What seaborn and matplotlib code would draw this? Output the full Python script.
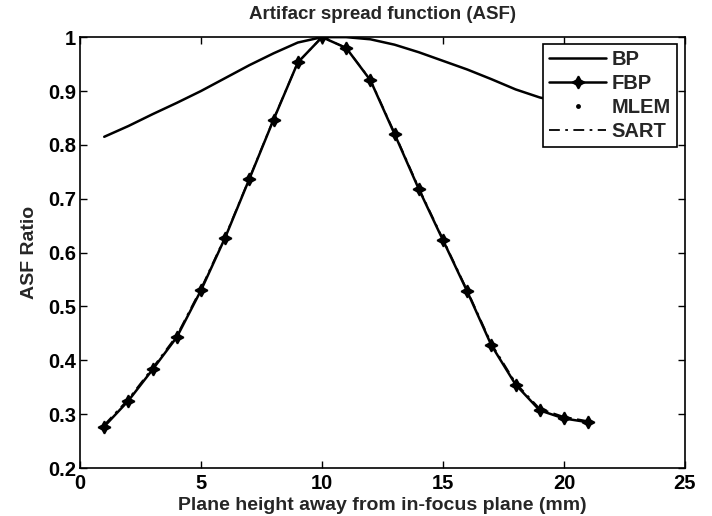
import matplotlib
matplotlib.use("Agg")
import matplotlib.pyplot as plt
import seaborn as sns
import pandas as pd

sns.set_theme(style="ticks")
plt.rcParams['font.family'] = ['Liberation Sans', 'DejaVu Sans']
plt.rcParams['font.weight'] = 'bold'

x = [1, 2, 3, 4, 5, 6, 7, 8, 9, 10, 11, 12, 13, 14, 15, 16, 17, 18, 19, 20, 21]
bp = [0.815, 0.835, 0.857, 0.878, 0.900, 0.924, 0.948, 0.970, 0.990, 1.000, 1.000,
      0.996, 0.986, 0.972, 0.956, 0.940, 0.922, 0.903, 0.888, 0.878, 0.872]
fbp = [0.277, 0.325, 0.383, 0.443, 0.530, 0.628, 0.737, 0.847, 0.953, 1.000, 0.980,
       0.920, 0.820, 0.718, 0.623, 0.528, 0.428, 0.355, 0.307, 0.292, 0.285]
mlem = [0.279, 0.327, 0.385, 0.445, 0.532, 0.629, 0.738, 0.848, 0.953, 1.000, 0.980,
        0.921, 0.821, 0.719, 0.624, 0.529, 0.430, 0.357, 0.309, 0.294, 0.286]
sart = [0.280, 0.328, 0.386, 0.446, 0.533, 0.630, 0.738, 0.848, 0.953, 1.000, 0.980,
        0.921, 0.822, 0.720, 0.625, 0.530, 0.431, 0.358, 0.310, 0.295, 0.287]

df = pd.DataFrame({"x": x, "BP": bp, "FBP": fbp, "MLEM": mlem, "SART": sart})

fig = plt.figure(figsize=(7.12, 5.16), dpi=100)
ax = fig.add_axes([0.1124, 0.093, 0.962 - 0.1124, 0.928 - 0.093])

sns.lineplot(data=df, x="x", y="BP", ax=ax, color="black", lw=1.8, label="BP")
sns.lineplot(data=df, x="x", y="FBP", ax=ax, color="black", lw=1.8, marker=(4, 1, 0),
             markersize=9, markeredgewidth=1.2, markeredgecolor="black", label="FBP")
sns.lineplot(data=df, x="x", y="MLEM", ax=ax, color="black", lw=0, marker="o",
             markersize=3.5, markeredgewidth=0, label="MLEM")
sns.lineplot(data=df, x="x", y="SART", ax=ax, color="black", lw=1.3,
             dashes=False, linestyle=(0, (6, 3, 1.5, 3)), label="SART")

ax.set_xlim(0, 25)
ax.set_ylim(0.2, 1.0)
ax.set_xticks([0, 5, 10, 15, 20, 25])
ax.set_yticks([0.2, 0.3, 0.4, 0.5, 0.6, 0.7, 0.8, 0.9, 1.0])
ax.set_yticklabels(["0.2", "0.3", "0.4", "0.5", "0.6", "0.7", "0.8", "0.9", "1"])
ax.tick_params(direction="in", top=True, right=True, length=5, width=1,
               labelsize=14.5, colors="black")
ax.tick_params(axis="x", pad=4)
ax.tick_params(axis="y", pad=3)
for lab in ax.get_xticklabels() + ax.get_yticklabels():
    lab.set_fontweight("bold")
for s in ax.spines.values():
    s.set_visible(True)
    s.set_color("black")
    s.set_linewidth(1.2)

ax.set_xlabel("Plane height away from in-focus plane (mm)", fontsize=14, fontweight="bold", labelpad=3)
ax.set_ylabel("ASF Ratio", fontsize=14, fontweight="bold", labelpad=7)
ax.set_title("Artifacr spread function (ASF)", fontsize=13.5, fontweight="bold", pad=13)

leg = ax.legend(loc="upper right", bbox_to_anchor=(0.987, 0.984), frameon=True, fancybox=False,
                edgecolor="black", framealpha=1, prop={"weight": "bold", "size": 14.5},
                handlelength=2.8, borderpad=0.3, labelspacing=0.25, handletextpad=0.3,
                borderaxespad=0)
leg.get_frame().set_linewidth(1.2)
for t in leg.get_texts():
    t.set_fontweight("bold")

fig.savefig("out.png", dpi=100)
